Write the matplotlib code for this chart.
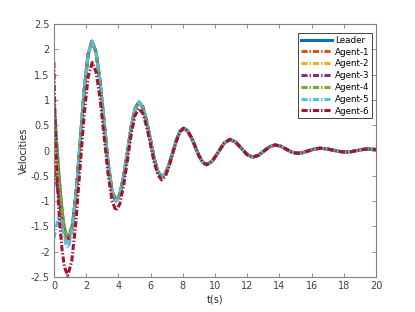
import numpy as np
import matplotlib
matplotlib.use("Agg")
import matplotlib.pyplot as plt
import matplotlib.ticker as ticker

# ----------------------------------------------------------------
# Data
# ----------------------------------------------------------------
# leader trajectory
t_lead = [0.0, 0.15, 0.30, 0.45, 0.60, 0.75, 0.92,
          1.16, 1.40, 1.64, 1.88, 2.12, 2.36,
          2.61, 2.86, 3.11, 3.35, 3.60, 3.85,
          4.09, 4.33, 4.57, 4.80, 5.04, 5.28,
          5.52, 5.75, 5.99, 6.22, 6.46, 6.69,
          6.92, 7.14, 7.37, 7.60, 7.82, 8.05,
          8.29, 8.53, 8.77, 9.00, 9.24, 9.48,
          9.84, 10.21, 10.57, 10.93,
          11.28, 11.64, 11.99, 12.34,
          12.69, 13.04, 13.38, 13.73,
          14.08, 14.42, 14.77, 15.11,
          15.46, 15.82, 16.17, 16.52,
          16.93, 17.33, 17.74, 18.14,
          18.48, 18.82, 19.16, 19.50, 20.0]
v_lead = [0.95, 0.24, -0.45, -1.02, -1.45, -1.68, -1.72,
          -1.46, -0.75, 0.22, 1.19, 1.90, 2.16,
          1.95, 1.37, 0.58, -0.21, -0.79, -1.00,
          -0.87, -0.51, -0.02, 0.47, 0.83, 0.96,
          0.86, 0.59, 0.22, -0.15, -0.42, -0.52,
          -0.456, -0.28, -0.04, 0.20, 0.376, 0.44,
          0.392, 0.26, 0.08, -0.10, -0.232, -0.28,
          -0.207, -0.03, 0.147, 0.22,
          0.169, 0.045, -0.079, -0.13,
          -0.095, -0.01, 0.075, 0.11,
          0.086, 0.028, -0.031, -0.055,
          -0.04, -0.005, 0.03, 0.045,
          0.034, 0.008, -0.019, -0.03,
          -0.021, 0.0, 0.021, 0.03, 0.02]

# early part of each agent before it merges with the leader
t_head = [0.0, 0.15, 0.30, 0.45, 0.60, 0.75, 0.90, 1.16, 1.40]
v_agent1 = [0.60, 0.00, -0.60, -1.10, -1.50, -1.75, -1.84, -1.50, -0.77]
v_agent2 = [0.30, -0.20, -0.75, -1.20, -1.55, -1.74, -1.80, -1.48, -0.76]
v_agent3 = [-0.40, -0.60, -0.90, -1.25, -1.55, -1.70, -1.74, -1.46, -0.75]
v_agent4 = [0.90, 0.22, -0.45, -1.00, -1.42, -1.64, -1.70, -1.44, -0.74]
v_agent5 = [-1.73, -1.50, -1.30, -1.40, -1.65, -1.85, -1.92, -1.55, -0.80]

t_agent6 = [0.0, 0.04, 0.10, 0.20, 0.35, 0.50, 0.65, 0.85,
            1.105, 1.36, 1.615, 1.87, 2.125, 2.38,
            2.625, 2.87, 3.115, 3.36, 3.605, 3.85,
            4.09, 4.33, 4.57, 4.80, 5.04, 5.28,
            5.52, 5.75, 5.99, 6.22, 6.46, 6.69,
            6.92, 7.14, 7.37, 7.60, 7.82]
v_agent6 = [1.75, 1.00, 0.20, -0.60, -1.40, -1.95, -2.30, -2.47,
            -2.19, -1.42, -0.365, 0.69, 1.46, 1.74,
            1.54, 1.01, 0.275, -0.46, -0.99, -1.19,
            -1.055, -0.685, -0.18, 0.325, 0.695, 0.83,
            0.736, 0.48, 0.125, -0.23, -0.485, -0.58,
            -0.512, -0.325, -0.07, 0.185, 0.37]

labels = ["Leader", "Agent-1", "Agent-2", "Agent-3", "Agent-4", "Agent-5", "Agent-6"]
colors = ["#0072BD", "#D95319", "#EDB120", "#7E2F8E", "#77AC30", "#4DBEEE", "#A2142F"]

# ----------------------------------------------------------------
# Assemble series: head of each agent + rest of the leader curve
# ----------------------------------------------------------------
t_lead = np.array(t_lead)
v_lead = np.array(v_lead)

def join(t_a, v_a):
    t_a = np.asarray(t_a)
    keep = t_lead > t_a[-1] + 1e-9
    return np.concatenate([t_a, t_lead[keep]]), np.concatenate([v_a, v_lead[keep]])

series = [(t_lead, v_lead)]
for v_h in [v_agent1, v_agent2, v_agent3, v_agent4, v_agent5]:
    series.append(join(t_head, v_h))
series.append(join(t_agent6, v_agent6))

# ----------------------------------------------------------------
# Plot
# ----------------------------------------------------------------
plt.rcParams.update({
    "font.family": "DejaVu Sans",
    "font.size": 7,
})

fig = plt.figure(figsize=(4.15, 3.12), dpi=100)
ax = fig.add_axes([0.130, 0.112, 0.776, 0.811])

for i, ((t, v), lab, c) in enumerate(zip(series, labels, colors)):
    if i == 0:
        ax.plot(t, v, color=c, linewidth=2.2, label=lab)
    else:
        ax.plot(t, v, color=c, linewidth=2.2, linestyle=(0, (2.0, 0.65, 0.45, 0.65)),
                label=lab)

ax.set_xlim(0, 20)
ax.set_ylim(-2.5, 2.5)
ax.xaxis.set_major_locator(ticker.MultipleLocator(2))
ax.yaxis.set_major_locator(ticker.MultipleLocator(0.5))
ax.yaxis.set_major_formatter(ticker.FuncFormatter(lambda y, _: f"{y:g}"))

edge = "#808080"
for s in ax.spines.values():
    s.set_color(edge)
    s.set_linewidth(0.8)
ax.tick_params(direction="in", length=3, width=0.6, color=edge,
               labelcolor="#404040", labelsize=7,
               top=True, right=True, pad=3)

ax.set_xlabel("t(s)", fontsize=7, color="#262626", labelpad=2)
ax.set_ylabel("Velocities", fontsize=7, color="#262626", labelpad=1)

leg = ax.legend(loc="upper right", bbox_to_anchor=(0.988, 0.964), borderaxespad=0,
                fontsize=6.3, handlelength=3.6, labelspacing=0.32,
                handletextpad=0.3, borderpad=0.3, fancybox=False, framealpha=1)
leg.get_frame().set_edgecolor("#262626")
leg.get_frame().set_linewidth(0.6)

fig.savefig("out.png", dpi=100)
